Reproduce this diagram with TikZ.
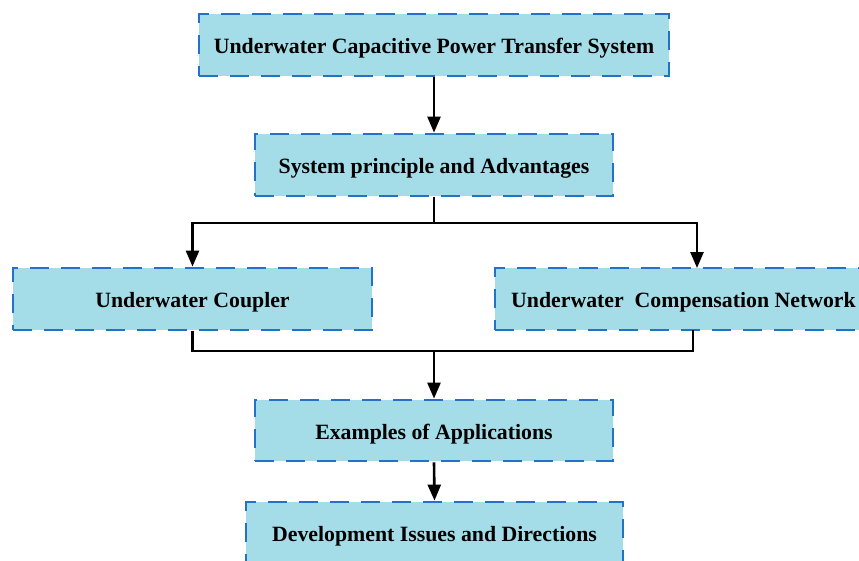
\documentclass[tikz,border=0pt]{standalone}
\usepackage{fontspec}
\setmainfont{Liberation Serif}
\usetikzlibrary{arrows.meta,calc}
\definecolor{boxfill}{HTML}{A4DDE8}
\definecolor{boxline}{HTML}{2272C8}
\begin{document}
\begin{tikzpicture}[x=1pt,y=-1pt,
  box/.style={draw=boxline, fill=boxfill, line width=2.8pt,
    dash pattern=on 19pt off 12pt, minimum height=62pt, inner sep=0pt,
    text height=21pt, text depth=4pt,
    font=\fontsize{21.8}{24}\selectfont\bfseries, text=black},
  conn/.style={line width=2.6pt, black},
  arr/.style={conn, -{Triangle[width=13pt,length=16pt]}}]
\useasboundingbox (0,0) rectangle (859,560);
\begin{scope}
\clip (0,0) rectangle (859,560);
\node[box, minimum width=470pt] (b1) at (434,45) {Underwater Capacitive Power Transfer System};
\node[box, minimum width=358pt] (b2) at (434,165) {System principle and Advantages};
\node[box, minimum width=359pt] (b3) at (192.5,299) {Underwater Coupler};
\node[box, minimum width=377pt] (b4) at (683.5,299) {Underwater~ Compensation Network};
\node[box, minimum width=358pt, minimum height=61pt] (b5) at (434,430.5) {Examples of Applications};
\node[box, minimum width=377pt] (b6) at (434.5,533) {Development Issues and Directions};
\end{scope}
\coordinate (split) at (434,223);
\coordinate (rin) at (697,268);
\coordinate (rout) at (693,330);
\coordinate (join) at (434,351);
\draw[arr] (b1.south) -- (b2.north);
\draw[conn] (b2.south) -- (split);
\draw[arr] (split) -| (b3.north);
\draw[arr] (split) -| (rin);
\draw[conn] (b3.south) |- (join) -| (rout);
\draw[arr] (join) -- (b5.north);
\draw[arr] (b5.south) -- (b6.north);
\end{tikzpicture}
\end{document}
